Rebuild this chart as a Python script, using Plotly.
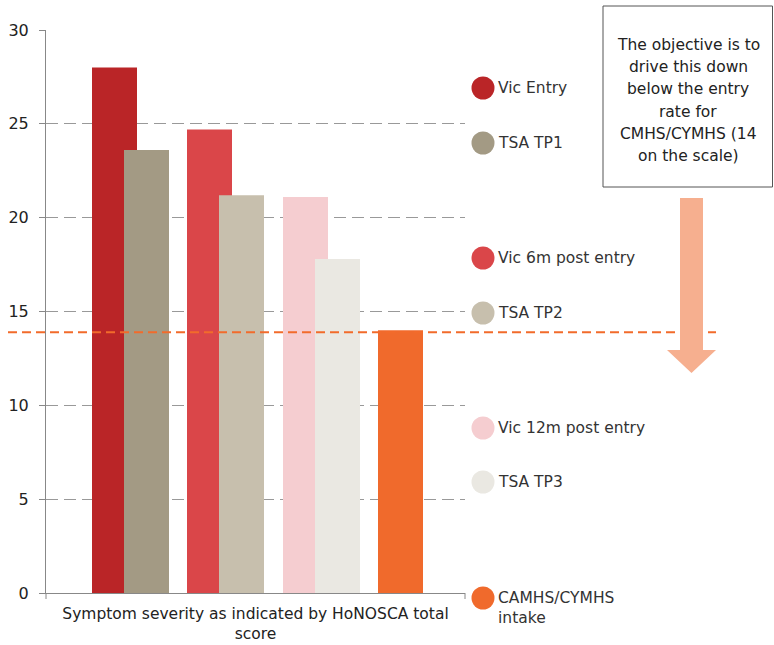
import plotly.graph_objects as go

# ---------------- data ----------------
categories = ["Symptom severity as indicated by HoNOSCA total<br>score"]
series_names = ["Vic Entry", "TSA TP1", "Vic 6m post entry", "TSA TP2",
                "Vic 12m post entry", "TSA TP3", "CAMHS/CYMHS<br>intake"]
series_values = [28.0, 23.6, 24.7, 21.2, 21.1, 17.8, 14.0]
target_value = 13.9
y_ticks = [0, 5, 10, 15, 20, 25, 30]
note_lines = ["The objective is to", "drive this down", "below the entry",
              "rate for", "CMHS/CYMHS (14", "on the scale)"]

# ---------------- style / layout ----------------
colors = ["#BA2527", "#A39A84", "#DA4649", "#C7BFAD", "#F5CDD0", "#EAE8E2", "#F06A2C"]
FONT = "DejaVu Sans"
W, H = 774, 645
L, R, T, B = 46, 465, 30, 593   # plot area in pixels
PW, PH = R - L, B - T


def px(x):
    return (x - L) / PW


def py(y):
    return (B - y) / PH


bar_left_px = [92, 124, 187, 219, 283, 315, 378]
bar_w_px = 45
legend_circle_y = [88, 143, 258, 313, 428, 482, 598]
legend_text_y = [88, 143, 258, 313, 428, 482, 608.5]

fig = go.Figure()
for i, name in enumerate(series_names):
    fig.add_trace(go.Bar(
        x=categories, y=[series_values[i]], name=name,
        width=bar_w_px / PW, offset=(bar_left_px[i] - L) / PW - 0.5,
        marker=dict(color=colors[i], line=dict(width=0)),
        showlegend=False, hoverinfo="skip",
    ))

shapes = []
annotations = []

# target dashed line
shapes.append(dict(type="line", xref="paper", yref="y", x0=px(8), x1=px(716),
                   y0=target_value, y1=target_value, layer="above",
                   line=dict(color="#F26B2B", width=2, dash="9px,5px")))

# axis end ticks
for xx in (L, R):
    shapes.append(dict(type="line", xref="paper", yref="paper", x0=px(xx), x1=px(xx),
                       y0=py(B), y1=py(B + 6), line=dict(color="#888", width=1)))

# custom legend
for i, name in enumerate(series_names):
    shapes.append(dict(type="circle", xref="paper", yref="paper",
                       xsizemode="pixel", ysizemode="pixel",
                       xanchor=px(483), yanchor=py(legend_circle_y[i]),
                       x0=-11.5, x1=11.5, y0=-11.5, y1=11.5,
                       fillcolor=colors[i], line=dict(width=0)))
    annotations.append(dict(xref="paper", yref="paper", x=px(496), y=py(legend_text_y[i]),
                            xanchor="left", yanchor="middle", align="left",
                            text=name, showarrow=False,
                            font=dict(family=FONT, size=15.5, color="#333")))

# note box
shapes.append(dict(type="rect", xref="paper", yref="paper",
                   x0=px(603), x1=px(772.5), y0=py(6), y1=py(187),
                   line=dict(color="#555", width=1), fillcolor="rgba(0,0,0,0)"))
for j, line in enumerate(note_lines):
    annotations.append(dict(xref="paper", yref="paper", x=px(688), y=py(45 + 22.2 * j),
                            xanchor="center", yanchor="middle", text=line, showarrow=False,
                            font=dict(family=FONT, size=15.5, color="#222")))

# arrow
pts = [(680, 198), (703, 198), (703, 350), (716, 350), (691.5, 373), (667, 350), (680, 350)]
path = "M " + " L ".join(f"{px(a):.5f},{py(b):.5f}" for a, b in pts) + " Z"
shapes.append(dict(type="path", xref="paper", yref="paper", path=path,
                   fillcolor="#F6AF8F", line=dict(width=0)))

fig.update_layout(
    width=W, height=H,
    margin=dict(l=L, r=W - R, t=T, b=H - B, pad=0),
    paper_bgcolor="white", plot_bgcolor="white",
    barmode="overlay", showlegend=False,
    font=dict(family=FONT, size=15.5, color="#222"),
    xaxis=dict(type="category", range=[-0.5, 0.5], showline=True, linecolor="#888",
               linewidth=1, showgrid=False, ticks="", ticklabelstandoff=6, automargin=False,
               tickfont=dict(size=15.5, color="#222"), fixedrange=True),
    yaxis=dict(range=[0, 30], tickvals=y_ticks, showline=True, linecolor="#888", linewidth=1,
               ticks="outside", ticklen=6, tickcolor="#888", showgrid=True,
               gridcolor="#999", griddash="12px,6px", gridwidth=1, zeroline=False,
               ticklabelstandoff=7, automargin=False,
               tickfont=dict(size=16, color="#222"), fixedrange=True),
    shapes=shapes, annotations=annotations,
)

fig.write_html(
    "out.html",
    config={"displayModeBar": False},
    post_script="document.documentElement.style.margin='0';document.body.style.margin='0';"
                "document.documentElement.style.overflow='hidden';document.body.style.overflow='hidden';",
)
